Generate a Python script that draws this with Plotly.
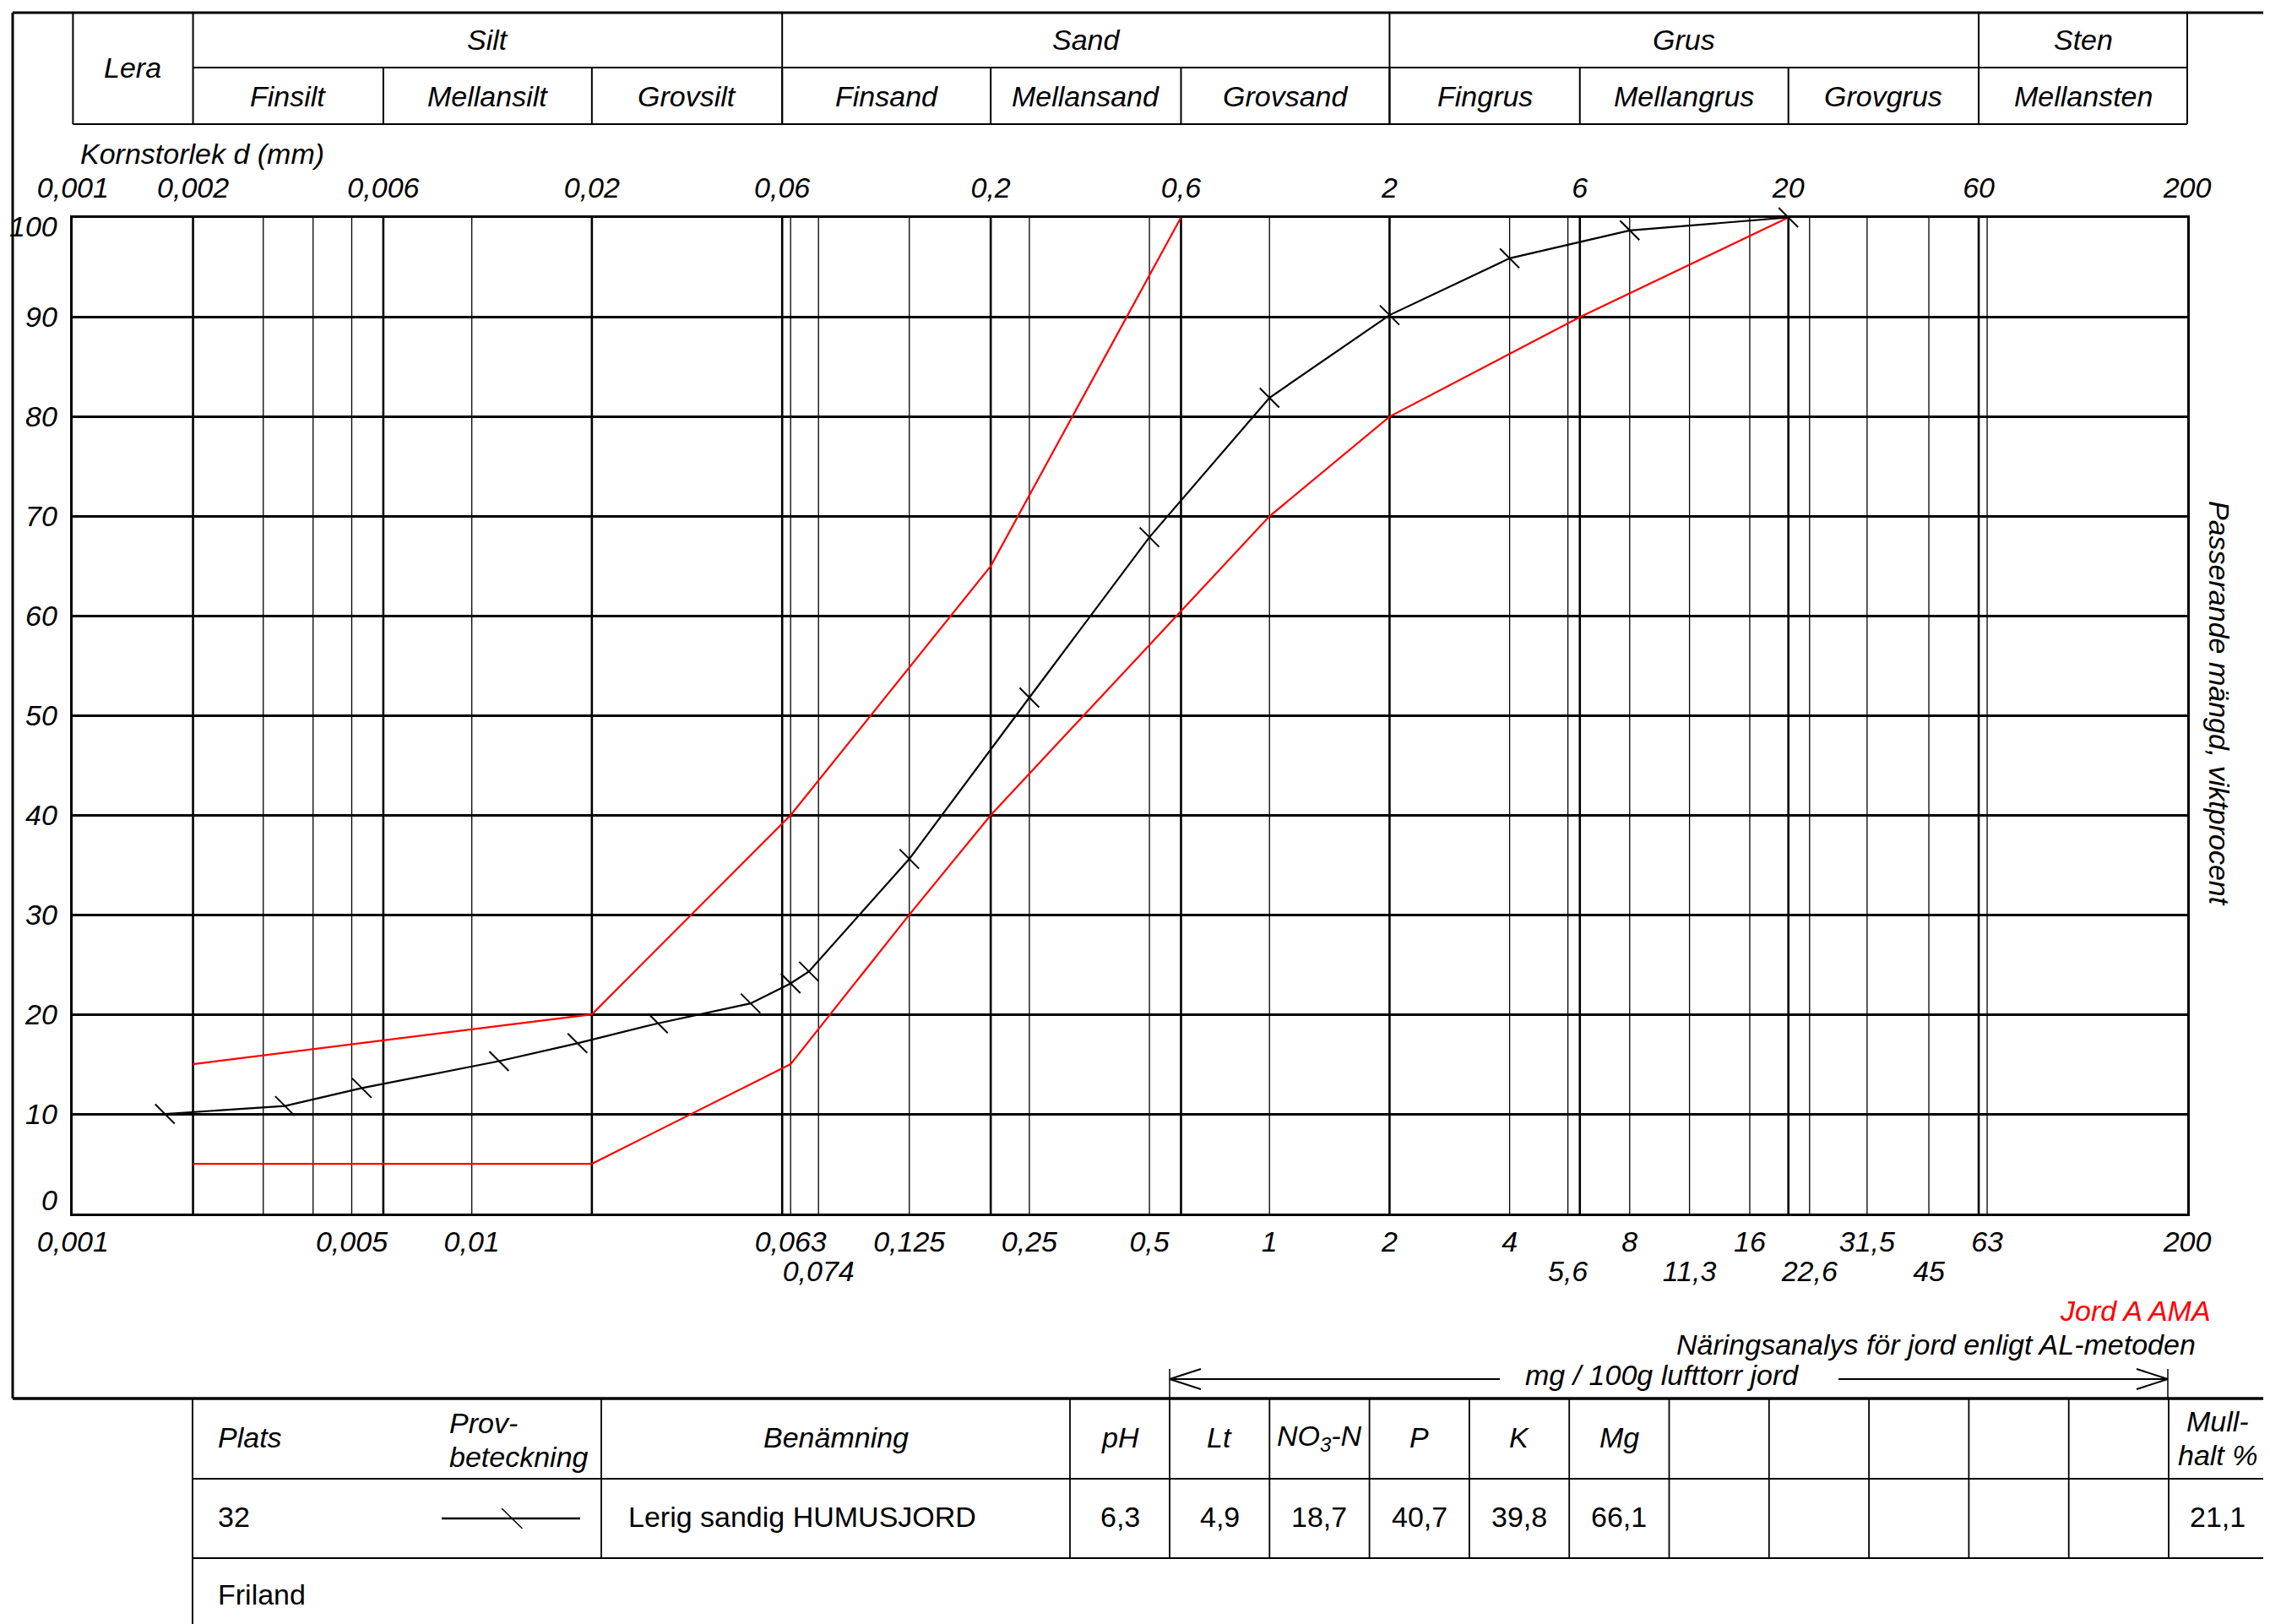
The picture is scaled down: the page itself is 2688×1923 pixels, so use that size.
import math
import plotly.graph_objects as go

# Siktkurva, prov 32 (kornstorlek mm / passerande viktprocent)
sample_d = [0.0017, 0.0034, 0.0053, 0.0117, 0.0184, 0.0293, 0.050, 0.063, 0.070,
            0.125, 0.25, 0.5, 1, 2, 4, 8, 20]
sample_pass = [10.0, 10.8, 12.6, 15.3, 17.1, 19.1, 21.1, 23.1, 24.3,
               35.6, 51.8, 67.9, 81.9, 90.2, 95.9, 98.7, 100]

# Jord A AMA, gränskurvor
ama_upper_d = [0.002, 0.02, 0.063, 0.2, 0.6]
ama_upper = [15, 20, 40, 65, 100]
ama_lower_d = [0.002, 0.02, 0.063, 0.125, 0.2, 1, 2, 6, 20]
ama_lower = [5, 5, 15, 30, 40, 70, 80, 90, 100]

major_grid = [0.002, 0.006, 0.02, 0.06, 0.2, 0.6, 2, 6, 20, 60]
minor_grid = [0.003, 0.004, 0.005, 0.01, 0.063, 0.074, 0.125, 0.25, 0.5, 1,
              4, 5.6, 8, 11.3, 16, 22.6, 31.5, 45, 63]

top_ticks = [0.001, 0.002, 0.006, 0.02, 0.06, 0.2, 0.6, 2, 6, 20, 60, 200]
top_labels = ["0,001", "0,002", "0,006", "0,02", "0,06", "0,2", "0,6",
              "2", "6", "20", "60", "200"]
bottom_ticks = [0.001, 0.005, 0.01, 0.063, 0.125, 0.25, 0.5, 1, 2, 4, 8, 16, 31.5, 63, 200]
bottom_labels = ["0,001", "0,005", "0,01", "0,063", "0,125", "0,25", "0,5",
                 "1", "2", "4", "8", "16", "31,5", "63", "200"]
bottom_ticks2 = [0.074, 5.6, 11.3, 22.6, 45]
bottom_labels2 = ["0,074", "5,6", "11,3", "22,6", "45"]
y_ticks = list(range(0, 101, 10))

main_classes = ["Lera", "Silt", "Sand", "Grus", "Sten"]
main_bounds = [0.001, 0.002, 0.06, 2, 60, 200]
sub_classes = ["Finsilt", "Mellansilt", "Grovsilt", "Finsand", "Mellansand", "Grovsand",
               "Fingrus", "Mellangrus", "Grovgrus", "Mellansten"]
sub_bounds = [0.002, 0.006, 0.02, 0.06, 0.2, 0.6, 2, 6, 20, 60, 200]

analysis_cols = ["pH", "Lt", "NO<sub>3</sub>-N", "P", "K", "Mg"]
analysis_vals = ["6,3", "4,9", "18,7", "40,7", "39,8", "66,1"]
mull_val = "21,1"

# page geometry (window pixels); the page body adds an 8 px margin
W, H = 2688, 1923
OFF = 8
PL, PR, PT, PB = 86.4, 2590, 257.5, 1437
X_MIN, X_MAX = 0.001, 200
FONT = "Liberation Sans, Arial, sans-serif"
FS = 34


def px(x):
    return (x - OFF) / W


def py(y):
    return 1 - (y - OFF) / H


def xpix(d):
    span = math.log10(X_MAX) - math.log10(X_MIN)
    return PL + (math.log10(d) - math.log10(X_MIN)) / span * (PR - PL)


def vlines(vals):
    xs, ys = [], []
    for v in vals:
        xs += [v, v, None]
        ys += [0, 100, None]
    return xs, ys


shapes = []


def seg(x0, y0, x1, y1, w=2):
    shapes.append(dict(type="line", xref="paper", yref="paper",
                       x0=px(x0), y0=py(y0), x1=px(x1), y1=py(y1),
                       line=dict(color="black", width=w)))


annotations = []


def label(text, x, y, anchor="center", italic=True, color="black", angle=0):
    annotations.append(dict(text=text, x=px(x), y=py(y), xref="paper", yref="paper",
                            xanchor=anchor, yanchor="middle", showarrow=False,
                            textangle=angle,
                            font=dict(family=FONT, size=FS, color=color,
                                      style="italic" if italic else "normal")))


fig = go.Figure()

# grid on the main x axis, curves on the overlaid ones (drawn on top)
gx, gy = vlines(major_grid)
fig.add_trace(go.Scatter(x=gx, y=gy, mode="lines", line=dict(color="black", width=2.6),
                         hoverinfo="skip"))
gx, gy = vlines(minor_grid)
fig.add_trace(go.Scatter(x=gx, y=gy, mode="lines", line=dict(color="black", width=1.3),
                         hoverinfo="skip"))

fig.add_trace(go.Scatter(x=ama_upper_d, y=ama_upper, mode="lines", xaxis="x2",
                         line=dict(color="#ff0000", width=2.2)))
fig.add_trace(go.Scatter(x=ama_lower_d, y=ama_lower, mode="lines", xaxis="x2",
                         line=dict(color="#ff0000", width=2.2)))
fig.add_trace(go.Scatter(x=sample_d, y=sample_pass, mode="lines+markers", xaxis="x3",
                         cliponaxis=False,
                         line=dict(color="black", width=2.2),
                         marker=dict(symbol="line-nw", size=23, color="black",
                                     line=dict(color="black", width=2))))

# header table with soil classes
seg(15, 15, 2684, 15, 3)
seg(xpix(main_bounds[1]), 80, PR, 80)
seg(PL, 147, PR, 147)
for b in main_bounds:
    seg(xpix(b), 15, xpix(b), 147)
for b in sub_bounds[1:-1]:
    seg(xpix(b), 80, xpix(b), 147)
label(main_classes[0], (xpix(main_bounds[0]) + xpix(main_bounds[1])) / 2, 80)
for i, name in enumerate(main_classes[1:], start=1):
    label(name, (xpix(main_bounds[i]) + xpix(main_bounds[i + 1])) / 2, 47.5)
for i, name in enumerate(sub_classes):
    label(name, (xpix(sub_bounds[i]) + xpix(sub_bounds[i + 1])) / 2, 113.5)

label("Kornstorlek d (mm)", 93, 182, anchor="left")

# y labels on the left
for v in y_ticks:
    shift = 16 if v == 0 else (-10.5 if v == 100 else 0)
    annotations.append(dict(text=str(v), x=px(70), y=v, xref="paper", yref="y",
                            xanchor="right", yanchor="middle", yshift=shift, showarrow=False,
                            font=dict(family=FONT, size=FS, color="black", style="italic")))

label("Passerande mängd, viktprocent", 2628, 833, angle=90)

# outer frame
seg(15, 15, 15, 1656, 3)
seg(2684, 15, 2684, 1923, 3)
seg(15, 1656, 2684, 1656, 3.5)

# legend texts
label("Jord A AMA", 2620, 1552, anchor="right", color="#ff0000")
label("Näringsanalys för jord enligt AL-metoden", 2602, 1592, anchor="right")

# arrow: mg / 100g lufttorr jord
seg(1385, 1621, 1385, 1656, 1.5)
seg(2567, 1621, 2567, 1656, 1.5)
seg(1385, 1633, 1776, 1633)
seg(2177, 1633, 2567, 1633)
seg(1385, 1633, 1422, 1621)
seg(1385, 1633, 1422, 1645)
seg(2567, 1633, 2530, 1621)
seg(2567, 1633, 2530, 1645)
label("mg / 100g lufttorr jord", 1968, 1628)

# bottom table
cols = [228, 712, 1267, 1385, 1503.3, 1621.6, 1739.9, 1858.2, 1976.5,
        2094.8, 2213.1, 2331.4, 2449.7, 2568, 2684]
seg(228, 1656, 228, 1923)
seg(228, 1751, 2684, 1751)
seg(228, 1845, 2684, 1845)
for c in cols[1:-1]:
    seg(c, 1656, c, 1845, 1.8)

label("Plats", 256, 1702, anchor="left")
label("Prov-", 530, 1685, anchor="left")
label("beteckning", 530, 1725, anchor="left")
label("Benämning", (cols[1] + cols[2]) / 2, 1702)
for i, name in enumerate(analysis_cols):
    label(name, (cols[2 + i] + cols[3 + i]) / 2, 1702)
    label(analysis_vals[i], (cols[2 + i] + cols[3 + i]) / 2, 1796, italic=False)
label("Mull-", (cols[-2] + cols[-1]) / 2, 1683)
label("halt %", (cols[-2] + cols[-1]) / 2, 1723)
label(mull_val, (cols[-2] + cols[-1]) / 2, 1796, italic=False)

label("32", 256, 1796, anchor="left", italic=False)
seg(523, 1798, 687, 1798, 2.5)
seg(594, 1786, 618.5, 1810, 1.5)
label("Lerig sandig HUMUSJORD", 742, 1796, anchor="left", italic=False)
label("Friland", 256, 1888, anchor="left", italic=False)

tick_font = dict(family=FONT, size=FS, color="black", style="italic")
x_range = [math.log10(X_MIN), math.log10(X_MAX)]
x_dom = [px(PL), px(PR)]

fig.update_layout(
    width=W, height=H,
    margin=dict(l=0, r=0, t=0, b=0, pad=0, autoexpand=False),
    paper_bgcolor="white", plot_bgcolor="white",
    showlegend=False,
    shapes=shapes,
    annotations=annotations,
    xaxis=dict(type="log", range=x_range, domain=x_dom, automargin=False,
               tickmode="array", tickvals=bottom_ticks, ticktext=bottom_labels,
               ticks="", showgrid=False, zeroline=False,
               showline=True, mirror=True, linecolor="black", linewidth=3,
               tickfont=tick_font, ticklabelstandoff=1),
    xaxis2=dict(type="log", range=x_range, domain=x_dom, overlaying="x", side="top",
                anchor="y", automargin=False,
                tickmode="array", tickvals=top_ticks, ticktext=top_labels,
                ticks="", showgrid=False, zeroline=False, showline=False,
                tickfont=tick_font, ticklabelstandoff=16),
    xaxis3=dict(type="log", range=x_range, domain=x_dom, overlaying="x", side="bottom",
                anchor="y", automargin=False,
                tickmode="array", tickvals=bottom_ticks2, ticktext=bottom_labels2,
                ticks="", showgrid=False, zeroline=False, showline=False,
                tickfont=tick_font, ticklabelstandoff=45),
    yaxis=dict(range=[0, 100], domain=[py(PB), py(PT)], automargin=False,
               tickmode="linear", dtick=10, showticklabels=False, ticks="",
               showgrid=True, gridcolor="black", gridwidth=2.6, zeroline=False,
               showline=True, mirror=True, linecolor="black", linewidth=3),
)

fig.write_html("out.html")
